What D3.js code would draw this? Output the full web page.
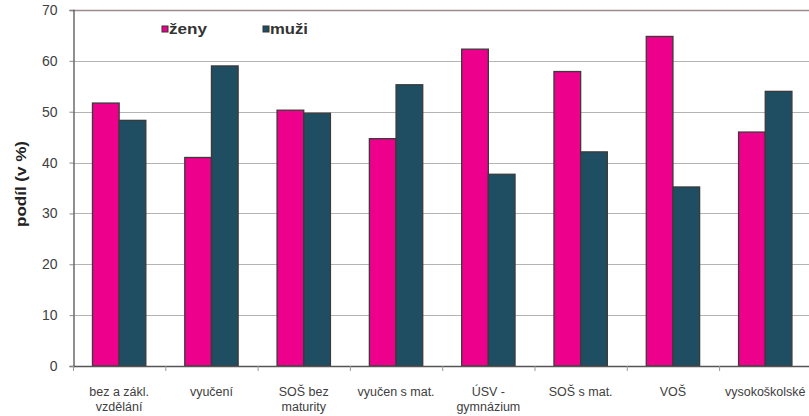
<!DOCTYPE html>
<html><head><meta charset="utf-8">
<script src="https://cdn.jsdelivr.net/npm/d3@7"></script>
<style>
html,body{margin:0;padding:0;background:#fff;}
svg{display:block;font-family:"Liberation Sans",Arial,sans-serif;}
</style></head>
<body>
<svg id="chart" width="809" height="416"></svg>
<script>
const categories = ["bez a zákl.\nvzdělání","vyučení","SOŠ bez\nmaturity","vyučen s mat.","ÚSV -\ngymnázium","SOŠ s mat.","VOŠ","vysokoškolské"];
const seriesNames = ["ženy","muži"];
const zeny = [51.7, 41.0, 50.3, 44.7, 62.3, 57.9, 64.8, 46.0];
const muzi = [48.3, 59.0, 49.7, 55.3, 37.7, 42.1, 35.2, 54.0];
const yTicks = [0,10,20,30,40,50,60,70];
const colors = ["#EC008C","#1F4E63"];

const svg = d3.select("#chart");
const m = {left:73, top:10, right:811.4, bottom:366};

const x = d3.scaleBand().domain(categories).range([m.left, m.right]).padding(0);
const xi = d3.scaleBand().domain(seriesNames).range([0, x.bandwidth()]).paddingInner(0).paddingOuter(0.73);
const y = d3.scaleLinear().domain([0,70]).range([m.bottom, m.top]);

// gridlines
svg.append("g").selectAll("line").data(yTicks.filter(d=>d>0 && d<70)).join("line")
  .attr("x1", m.left).attr("x2", 809)
  .attr("y1", d=>Math.round(y(d))+0.5).attr("y2", d=>Math.round(y(d))+0.5)
  .attr("stroke","#b4b4b4").attr("stroke-width",1);

// top border
svg.append("line").attr("x1",m.left).attr("x2",809)
  .attr("y1",y(70)+0.5).attr("y2",y(70)+0.5)
  .attr("stroke","#9c8c8a").attr("stroke-width",1.5);

// bars
const data = categories.map((c,i)=>({c, vals:[{s:seriesNames[0],v:zeny[i]},{s:seriesNames[1],v:muzi[i]}]}));
const g = svg.append("g").selectAll("g").data(data).join("g")
  .attr("transform", d=>`translate(${x(d.c)},0)`);
g.selectAll("rect").data(d=>d.vals).join("rect")
  .attr("x", d=>xi(d.s)).attr("width", xi.bandwidth())
  .attr("y", d=>y(d.v)).attr("height", d=>y(0)-y(d.v))
  .attr("fill", (d,i)=>colors[i])
  .attr("stroke","#3a3a3a").attr("stroke-width",1.3);

// y axis
const yAxis = svg.append("g").attr("transform",`translate(${m.left+0.5},0)`)
  .call(d3.axisLeft(y).tickValues(yTicks).tickSize(4).tickPadding(12).tickFormat(d3.format("d")));
yAxis.select(".domain").attr("stroke","#555").attr("stroke-width",1.3);
yAxis.selectAll(".tick line").attr("stroke","#888");
yAxis.selectAll(".tick text").attr("fill","#404040").attr("font-size","14px")
  .attr("font-family",'"Liberation Sans",Arial,sans-serif');

// x axis baseline and ticks
svg.append("line").attr("x1",m.left).attr("x2",809).attr("y1",m.bottom+0.5).attr("y2",m.bottom+0.5)
  .attr("stroke","#555").attr("stroke-width",1.3);
svg.append("g").selectAll("line").data(d3.range(categories.length+1)).join("line")
  .attr("x1", i=>m.left + i*x.step()+0.5).attr("x2", i=>m.left + i*x.step()+0.5)
  .attr("y1", m.bottom).attr("y2", m.bottom+5)
  .attr("stroke","#999");

// category labels
const lbl = svg.append("g").selectAll("text").data(categories).join("text")
  .attr("x", d=>x(d)+x.bandwidth()/2).attr("y", 396)
  .attr("text-anchor","middle").attr("fill","#404040").attr("font-size","12.5px");
lbl.each(function(d){
  const t = d3.select(this);
  d.split("\n").forEach((line,k)=>{
    t.append("tspan").attr("x", x(d)+x.bandwidth()/2).attr("dy", k===0?0:14.5).text(line);
  });
});

// y title
svg.append("text").attr("transform","translate(26,184) rotate(-90)")
  .attr("text-anchor","middle").attr("font-weight","bold").attr("font-size","14px")
  .attr("textLength",86).attr("lengthAdjust","spacingAndGlyphs")
  .attr("fill","#222").text("podíl (v %)");

// legend
const legX = [162, 263];
const legW = [38, 38];
const leg = svg.append("g").selectAll("g").data(seriesNames).join("g")
  .attr("transform",(d,i)=>`translate(${legX[i]},26)`);
leg.append("rect").attr("width",6).attr("height",6)
  .attr("fill",(d,i)=>colors[i]).attr("stroke","#333").attr("stroke-width",1);
leg.append("text").attr("x",7).attr("y",8).attr("font-weight","bold").attr("font-size","14px")
  .attr("textLength",(d,i)=>legW[i]).attr("lengthAdjust","spacingAndGlyphs")
  .attr("fill","#333").text(d=>d);
</script>
</body></html>
